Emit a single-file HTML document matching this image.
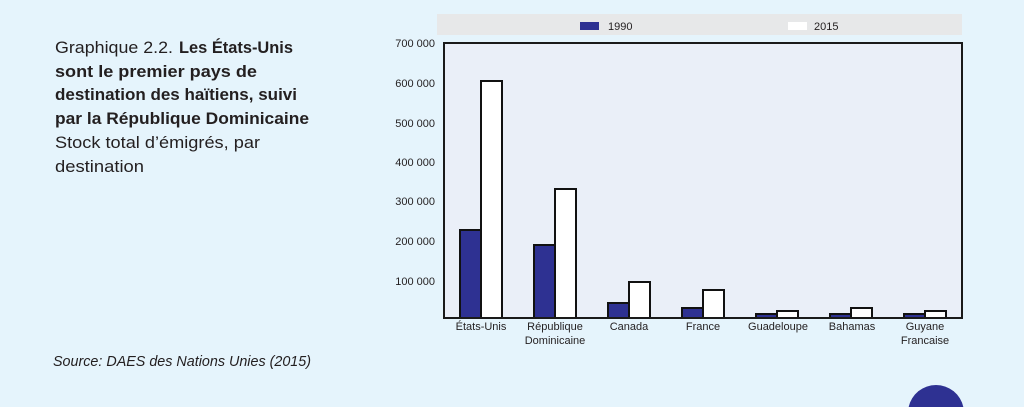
<!DOCTYPE html>
<html>
<head>
<meta charset="utf-8">
<style>
  html, body { margin:0; padding:0; width:1024px; height:407px; overflow:hidden; }
  body { background:#e5f4fc; }
  svg { display:block; }
  text { font-family: "Liberation Sans", sans-serif; fill:#231f20; }
</style>
</head>
<body>
<svg width="1024" height="407" viewBox="0 0 1024 407" xmlns="http://www.w3.org/2000/svg" overflow="hidden">
  <rect x="0" y="0" width="1024" height="407" fill="#e5f4fc"/>

  <!-- Title block -->
  <text x="55" y="53" font-size="16.5" textLength="118" lengthAdjust="spacingAndGlyphs">Graphique 2.2.</text>
  <text x="179" y="53" font-size="16.5" font-weight="bold" textLength="114" lengthAdjust="spacingAndGlyphs">Les États-Unis</text>
  <text x="55" y="77" font-size="16.5" font-weight="bold" textLength="202" lengthAdjust="spacingAndGlyphs">sont le premier pays de</text>
  <text x="55" y="100" font-size="16.5" font-weight="bold" textLength="242" lengthAdjust="spacingAndGlyphs">destination des haïtiens, suivi</text>
  <text x="55" y="124" font-size="16.5" font-weight="bold" textLength="254" lengthAdjust="spacingAndGlyphs">par la République Dominicaine</text>
  <text x="55" y="148" font-size="16.5" textLength="205" lengthAdjust="spacingAndGlyphs">Stock total d’émigrés, par</text>
  <text x="55" y="172" font-size="16.5" textLength="89" lengthAdjust="spacingAndGlyphs">destination</text>

  <!-- Source -->
  <text x="53" y="366" font-size="15" font-style="italic" fill="#333" textLength="258" lengthAdjust="spacingAndGlyphs">Source: DAES des Nations Unies (2015)</text>

  <!-- Legend -->
  <rect x="437" y="14" width="525" height="21" fill="#e7e8e9"/>
  <rect x="580" y="22" width="19" height="8" fill="#2e3192"/>
  <text x="608" y="30" font-size="11" fill="#333">1990</text>
  <rect x="788" y="22" width="19" height="8" fill="#ffffff"/>
  <text x="814" y="30" font-size="11" fill="#333">2015</text>

  <!-- Plot area -->
  <rect x="444" y="43" width="518" height="275" fill="#eaeff8" stroke="#1a1a1a" stroke-width="2"/>

  <!-- Y tick labels -->
  <g font-size="11" text-anchor="end" fill="#333">
    <text x="435" y="47">700 000</text>
    <text x="435" y="87">600 000</text>
    <text x="435" y="127">500 000</text>
    <text x="435" y="166">400 000</text>
    <text x="435" y="205">300 000</text>
    <text x="435" y="245">200 000</text>
    <text x="435" y="285">100 000</text>
  </g>

  <!-- Bars -->
  <g stroke="#111" stroke-width="2">
    <rect x="460" y="230" width="21" height="88" fill="#2e3192"/>
    <rect x="481" y="81" width="21" height="237" fill="#ffffff"/>
    <rect x="534" y="245" width="21" height="73" fill="#2e3192"/>
    <rect x="555" y="189" width="21" height="129" fill="#ffffff"/>
    <rect x="608" y="303" width="21" height="15" fill="#2e3192"/>
    <rect x="629" y="282" width="21" height="36" fill="#ffffff"/>
    <rect x="682" y="308" width="21" height="10" fill="#2e3192"/>
    <rect x="703" y="290" width="21" height="28" fill="#ffffff"/>
    <rect x="756" y="314" width="21" height="4" fill="#2e3192"/>
    <rect x="777" y="311" width="21" height="7" fill="#ffffff"/>
    <rect x="830" y="314" width="21" height="4" fill="#2e3192"/>
    <rect x="851" y="308" width="21" height="10" fill="#ffffff"/>
    <rect x="904" y="314" width="21" height="4" fill="#2e3192"/>
    <rect x="925" y="311" width="21" height="7" fill="#ffffff"/>
  </g>

  <!-- Axis lines redraw -->
  <line x1="443" y1="318" x2="963" y2="318" stroke="#1a1a1a" stroke-width="2"/>
  <line x1="444" y1="42" x2="444" y2="319" stroke="#1a1a1a" stroke-width="2"/>
  <line x1="962" y1="42" x2="962" y2="319" stroke="#1a1a1a" stroke-width="2"/>

  <!-- Category labels -->
  <g font-size="11" text-anchor="middle" fill="#333">
    <text x="481" y="330">États-Unis</text>
    <text x="555" y="330">République</text>
    <text x="555" y="344">Dominicaine</text>
    <text x="629" y="330">Canada</text>
    <text x="703" y="330">France</text>
    <text x="778" y="330">Guadeloupe</text>
    <text x="852" y="330">Bahamas</text>
    <text x="925" y="330">Guyane</text>
    <text x="925" y="344">Francaise</text>
  </g>

  <!-- Decorative circle segment (clipped at bottom edge) -->
  <path d="M 908.65 407 A 28 28 0 0 1 963.35 407 Z" fill="#2e3192"/>
</svg>
</body>
</html>
